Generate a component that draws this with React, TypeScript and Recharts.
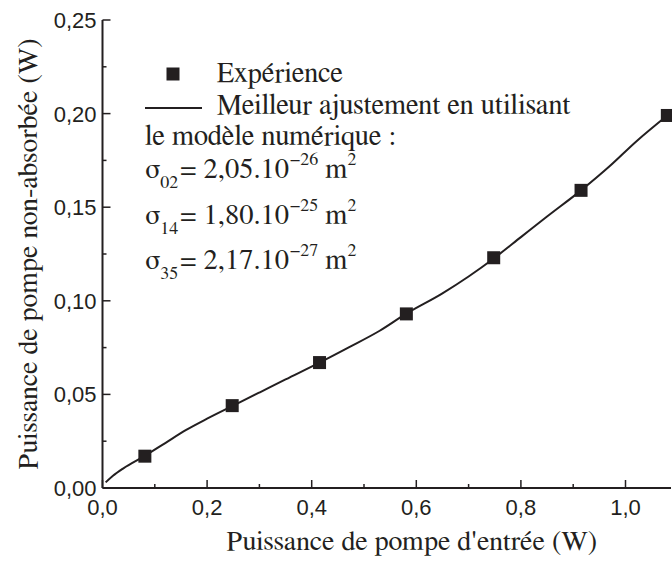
import { ComposedChart, Line, Scatter, XAxis, YAxis } from "recharts";

const INK = "#231f20";
const SERIF = "'Nimbus Roman', 'Nimbus Roman No9 L', FreeSerif, 'Noto Serif', 'DejaVu Serif', Georgia, 'Liberation Serif', serif";
const SANS = "'Liberation Sans', Arial, Arimo, sans-serif";

// experience points
const expX = [0.081, 0.248, 0.415, 0.581, 0.748, 0.915, 1.08];
const expY = [0.017, 0.044, 0.067, 0.093, 0.123, 0.159, 0.199];

// best fit from the numerical model
const fitX = [0.006, 0.02, 0.04, 0.08, 0.12, 0.16, 0.2, 0.25, 0.3, 0.35, 0.415, 0.47, 0.53, 0.58, 0.65, 0.7, 0.75, 0.8, 0.85, 0.915, 0.97, 1.02, 1.08];
const fitY = [0.003, 0.0065, 0.0105, 0.017, 0.024, 0.031, 0.037, 0.044, 0.051, 0.058, 0.067, 0.075, 0.084, 0.093, 0.104, 0.113, 0.123, 0.134, 0.145, 0.159, 0.172, 0.185, 0.199];

const xTicks = [0, 0.1, 0.2, 0.3, 0.4, 0.5, 0.6, 0.7, 0.8, 0.9, 1.0];
const yTicks = [0, 0.025, 0.05, 0.075, 0.1, 0.125, 0.15, 0.175, 0.2, 0.225, 0.25];

const X_MAX = 1.087;
const Y_MAX = 0.25;

const expData = expX.map((x, i) => ({ x, y: expY[i] }));
const fitData = fitX.map((x, i) => ({ x, y: fitY[i] }));

const isMajorX = (v: number) => Math.round(v * 10) % 2 === 0;
const isMajorY = (v: number) => Math.round(v * 40) % 2 === 0;

const serifText = { fontFamily: SERIF, fontSize: 28.5, fill: INK };

function BottomTick({ x, y, payload }: any) {
  const major = isMajorX(payload.value);
  return (
    <g>
      <line x1={x} x2={x} y1={y} y2={y - (major ? 8 : 4)} stroke={INK} strokeWidth={1.5} />
      {major && (
        <text x={x} y={y + 27} textAnchor="middle" style={{ fontFamily: SANS, fontSize: 22, fill: INK }}>
          {payload.value.toFixed(1).replace(".", ",")}
        </text>
      )}
    </g>
  );
}

function TopTick({ x, y, payload }: any) {
  const major = isMajorX(payload.value);
  return <line x1={x} x2={x} y1={y} y2={y + (major ? 8 : 4)} stroke={INK} strokeWidth={1.5} />;
}

function LeftTick({ x, y, payload }: any) {
  const major = isMajorY(payload.value);
  return (
    <g>
      <line x1={x} x2={x + (major ? 8 : 4)} y1={y} y2={y} stroke={INK} strokeWidth={1.5} />
      {major && (
        <text x={x - 6} y={y} dy="0.36em" textAnchor="end" style={{ fontFamily: SANS, fontSize: 22, fill: INK }}>
          {payload.value.toFixed(2).replace(".", ",")}
        </text>
      )}
    </g>
  );
}

function RightTick({ x, y, payload }: any) {
  const major = isMajorY(payload.value);
  return <line x1={x} x2={x - (major ? 8 : 4)} y1={y} y2={y} stroke={INK} strokeWidth={1.5} />;
}

function SquareMark({ cx, cy }: any) {
  return <rect x={cx - 6.5} y={cy - 6.5} width={13} height={13} fill={INK} />;
}

function YTitle({ viewBox }: any) {
  const cx = 29;
  const cy = viewBox.y + viewBox.height / 2;
  return (
    <text
      x={cx}
      y={cy}
      transform={`rotate(-90 ${cx} ${cy})`}
      textAnchor="middle"
      dominantBaseline="central"
      style={{ fontFamily: SERIF, fontSize: 28, fill: INK }}
    >
      Puissance de pompe non-absorbée (W)
    </text>
  );
}

function SigmaRow({ y, sub, mant, exp }: { y: number; sub: string; mant: string; exp: string }) {
  return (
    <text x={145} y={y} style={serifText}>
      <tspan>σ</tspan>
      <tspan dy={10} style={{ fontSize: 18 }}>{sub}</tspan>
      <tspan dy={-10} dx={2}>= {mant}.10</tspan>
      <tspan dx={1} dy={-13} style={{ fontSize: 18 }}>−{exp}</tspan>
      <tspan dy={13}> m</tspan>
      <tspan dy={-13} style={{ fontSize: 18 }}>2</tspan>
    </text>
  );
}

export default function App() {
  const axisLine = { stroke: INK, strokeWidth: 2 };
  return (
    <div style={{ position: "absolute", left: 0, top: 0, width: 672, height: 563, background: "#fff" }}>
      <ComposedChart width={672} height={563} margin={{ top: 20, right: 1, bottom: 0, left: 0 }}>
        <XAxis
          dataKey="x"
          type="number"
          domain={[0, X_MAX]}
          ticks={xTicks}
          interval={0}
          tickSize={0}
          tickMargin={0}
          tickLine={false}
          axisLine={axisLine}
          tick={<BottomTick />}
          height={75}
          label={{
            value: "Puissance de pompe d'entrée (W)",
            position: "insideBottom",
            offset: 13,
            dx: 25,
            style: { fontFamily: SERIF, fontSize: 28, fill: INK },
          }}
        />
        <XAxis
          xAxisId="top"
          orientation="top"
          dataKey="x"
          type="number"
          domain={[0, X_MAX]}
          ticks={xTicks}
          interval={0}
          tickSize={0}
          tickMargin={0}
          tickLine={false}
          axisLine={axisLine}
          tick={<TopTick />}
          height={0}
        />
        <YAxis
          type="number"
          domain={[0, Y_MAX]}
          ticks={yTicks}
          interval={0}
          tickSize={0}
          tickMargin={0}
          tickLine={false}
          axisLine={axisLine}
          tick={<LeftTick />}
          width={102.5}
          label={<YTitle />}
        />
        <YAxis
          yAxisId="right"
          orientation="right"
          type="number"
          domain={[0, Y_MAX]}
          ticks={yTicks}
          interval={0}
          tickSize={0}
          tickMargin={0}
          tickLine={false}
          axisLine={axisLine}
          tick={<RightTick />}
          width={0}
        />
        <Line
          data={fitData}
          dataKey="y"
          type="monotone"
          stroke={INK}
          strokeWidth={2}
          dot={false}
          activeDot={false}
          isAnimationActive={false}
        />
        <Scatter data={expData} dataKey="y" shape={<SquareMark />} isAnimationActive={false} />
      </ComposedChart>
      <svg
        width={672}
        height={563}
        style={{ position: "absolute", left: 0, top: 0, pointerEvents: "none" }}
      >
        <rect x={166.5} y={67.5} width={13} height={13} fill={INK} />
        <text x={216.7} y={82} style={serifText}>
          Expérience
        </text>
        <line x1={145} x2={202} y1={108} y2={108} stroke={INK} strokeWidth={2} />
        <text x={216.7} y={114} style={serifText}>
          Meilleur ajustement en utilisant
        </text>
        <text x={145} y={145} style={serifText}>
          le modèle numérique :
        </text>
        <SigmaRow y={178} sub="02" mant="2,05" exp="26" />
        <SigmaRow y={224} sub="14" mant="1,80" exp="25" />
        <SigmaRow y={269} sub="35" mant="2,17" exp="27" />
      </svg>
    </div>
  );
}
